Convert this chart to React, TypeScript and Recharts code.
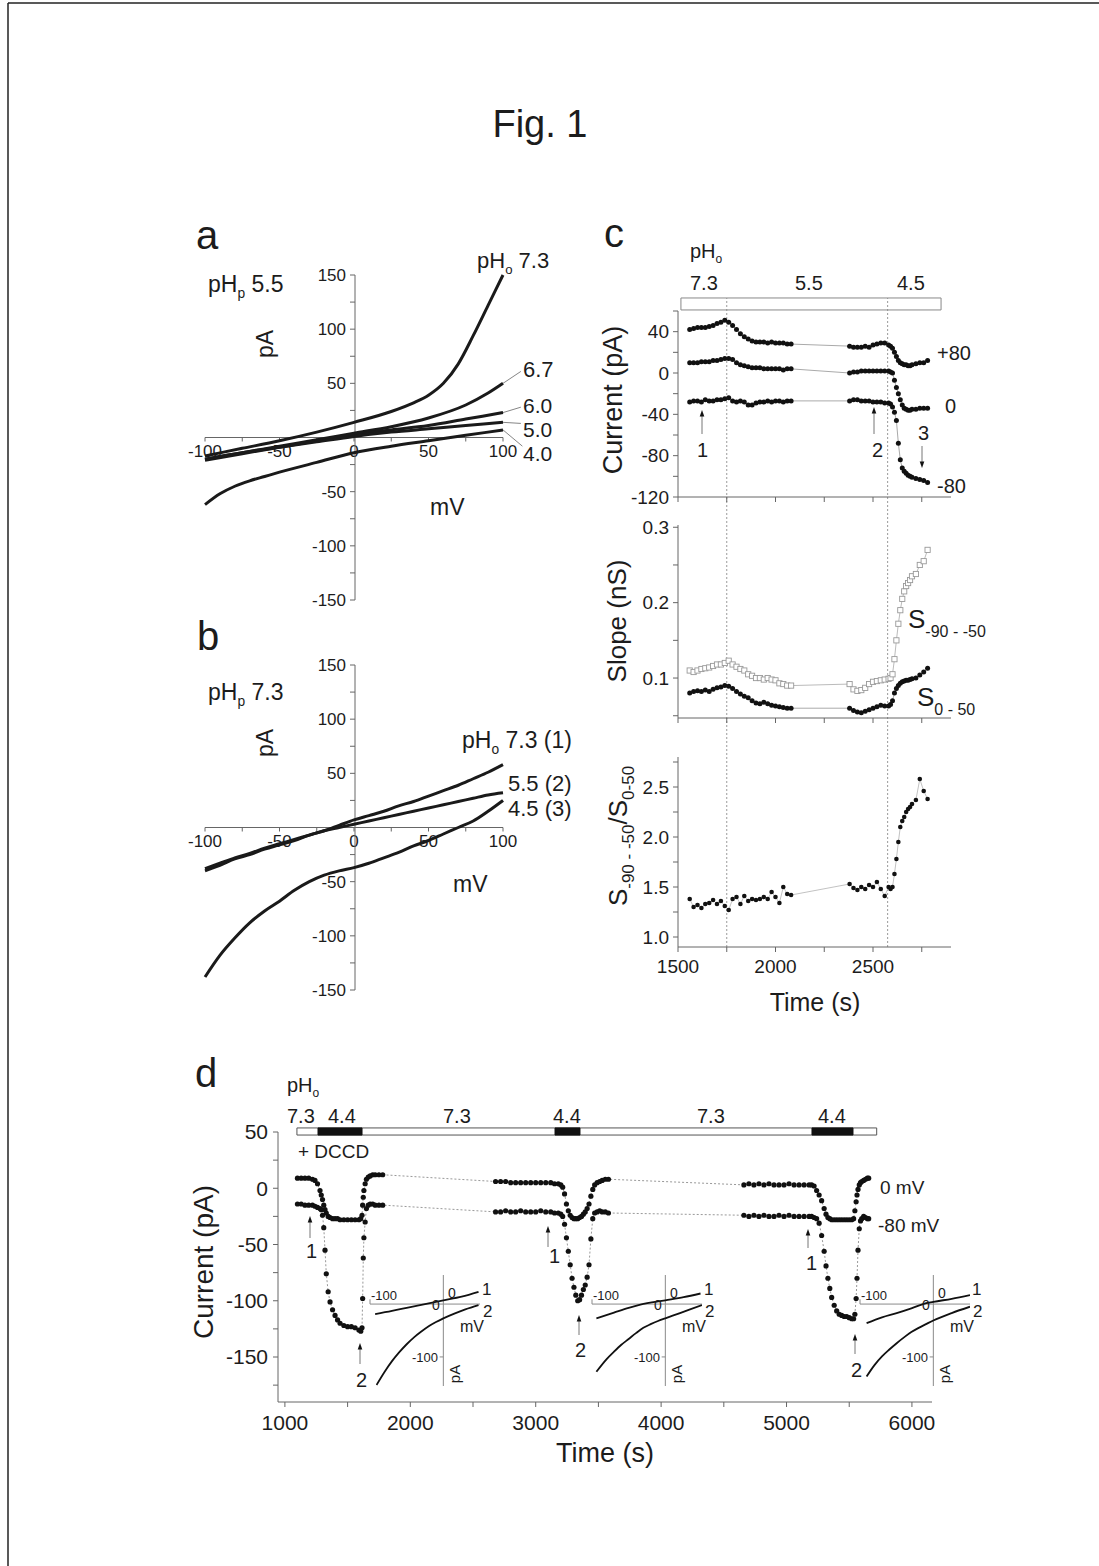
import React from 'react';
import { LineChart, Line, XAxis, YAxis, ReferenceLine, ReferenceArea } from 'recharts';

const FONT = '"Liberation Sans", Arial, Helvetica, sans-serif';
const INK = '#1c1c1c';
const AX = '#666';

// ---------------- Panel a (pHp 5.5) ----------------
const A_V_73 = [-100, -75, -50, -25, 0, 25, 40, 50, 60, 70, 80, 90, 100];
const A_I_73 = [-17, -10, -3, 5, 14, 24, 32, 39, 50, 68, 94, 122, 150];
const A_V_67 = [-100, -75, -50, -25, 0, 25, 50, 75, 90, 100];
const A_I_67 = [-20, -14, -8, -2, 4, 10, 18, 30, 41, 50];
const A_V_60 = [-100, -75, -50, -25, 0, 25, 50, 75, 100];
const A_I_60 = [-21, -15, -9, -3, 3, 7, 11, 17, 23];
const A_V_50 = [-100, -75, -50, -25, 0, 25, 50, 75, 100];
const A_I_50 = [-20, -14, -9, -4, 1, 5, 8, 11, 14];
const A_V_40 = [-100, -90, -80, -70, -60, -50, -25, 0, 25, 50, 75, 100];
const A_I_40 = [-62, -52, -45, -40, -36, -32, -23, -14, -8, -3, 2, 7];

// ---------------- Panel b (pHp 7.3) ----------------
const B_V = [-100, -90, -80, -70, -60, -50, -40, -30, -20, -10, 0, 10, 20, 30, 40, 50, 60, 70, 80, 90, 100];
const B_I_73 = [-40, -35, -29, -25, -20, -16, -12, -7, -3, 2, 7, 11, 15, 20, 24, 29, 34, 39, 45, 51, 58];
const B_I_55 = [-38, -33, -28, -24, -19, -15, -11, -7, -3, 0, 3, 6, 9, 12, 15, 18, 21, 24, 27, 30, 32];
const B_I_45 = [-138, -118, -102, -88, -77, -68, -58, -50, -44, -40, -37, -33, -28, -23, -17, -12, -6, 0, 6, 15, 25];

const IV_XTICKS = [-100, -75, -50, -25, 0, 25, 50, 75, 100];
const IV_YTICKS = [-150, -125, -100, -75, -50, -25, 0, 25, 50, 75, 100, 125, 150];

// ---------------- Panel c ----------------
const C_T = [1560, 1580, 1600, 1620, 1640, 1660, 1680, 1700, 1720, 1740, 1760, 1780, 1800, 1820, 1840, 1860, 1880, 1900, 1920, 1940, 1960, 1980, 2000, 2020, 2040, 2060, 2080,
  2380, 2400, 2420, 2440, 2460, 2480, 2500, 2520, 2540, 2560, 2580, 2590, 2600, 2610, 2620, 2630, 2640, 2650, 2660, 2670, 2680, 2690, 2700, 2720, 2740, 2760, 2780];
const C_P80 = [42, 43, 44, 44, 44, 45, 46, 48, 49, 51, 49, 46, 42, 38, 35, 33, 31, 30, 30, 30, 29, 30, 29, 29, 29, 28, 28,
  26, 25, 25, 25, 26, 25, 27, 28, 29, 29, 27, 26, 24, 20, 16, 12, 10, 9, 8, 8, 7, 7, 8, 9, 10, 10, 12];
const C_0 = [10, 10, 10, 11, 11, 11, 12, 12, 13, 14, 14, 13, 10, 8, 7, 6, 5, 5, 5, 4, 4, 4, 4, 4, 3, 4, 4,
  0, 1, 1, 2, 2, 2, 2, 2, 2, 2, 2, 1, 0, -7, -14, -20, -26, -31, -34, -35, -36, -36, -35, -35, -34, -34, -34];
const C_M80 = [-28, -27, -27, -28, -26, -27, -27, -26, -26, -25, -24, -27, -28, -27, -28, -31, -31, -29, -28, -28, -27, -28, -27, -27, -28, -27, -27,
  -27, -26, -26, -27, -27, -27, -28, -28, -28, -29, -29, -30, -33, -38, -46, -68, -84, -92, -95, -97, -99, -100, -101, -102, -103, -104, -106];
const C_S90 = [0.110, 0.108, 0.110, 0.112, 0.113, 0.114, 0.116, 0.118, 0.118, 0.120, 0.123, 0.118, 0.115, 0.112, 0.110, 0.105, 0.103, 0.100, 0.100, 0.098, 0.100, 0.098, 0.097, 0.093, 0.092, 0.090, 0.090,
  0.092, 0.085, 0.083, 0.084, 0.087, 0.092, 0.095, 0.096, 0.097, 0.098, 0.099, 0.100, 0.105, 0.125, 0.150, 0.172, 0.190, 0.205, 0.215, 0.222, 0.226, 0.230, 0.235, 0.238, 0.250, 0.255, 0.270];
const C_S0 = [0.080, 0.082, 0.083, 0.082, 0.084, 0.082, 0.085, 0.087, 0.088, 0.090, 0.089, 0.086, 0.082, 0.079, 0.076, 0.074, 0.070, 0.067, 0.066, 0.068, 0.066, 0.064, 0.063, 0.062, 0.061, 0.060, 0.060,
  0.060, 0.057, 0.055, 0.054, 0.056, 0.058, 0.060, 0.062, 0.064, 0.063, 0.063, 0.065, 0.070, 0.080, 0.086, 0.090, 0.093, 0.095, 0.096, 0.097, 0.097, 0.098, 0.099, 0.100, 0.104, 0.108, 0.113];
const C_RATIO = [1.38, 1.30, 1.32, 1.29, 1.33, 1.34, 1.37, 1.33, 1.36, 1.31, 1.27, 1.38, 1.40, 1.33, 1.41, 1.36, 1.38, 1.37, 1.38, 1.40, 1.38, 1.45, 1.40, 1.34, 1.50, 1.43, 1.42,
  1.53, 1.49, 1.47, 1.50, 1.48, 1.52, 1.50, 1.55, 1.48, 1.41, 1.50, 1.48, 1.50, 1.63, 1.78, 1.95, 2.10, 2.16, 2.20, 2.25, 2.28, 2.30, 2.33, 2.37, 2.58, 2.46, 2.38];
const C_XTICKS = [1500, 1750, 2000, 2250, 2500, 2750];
const C1_YTICKS = [-120, -100, -80, -60, -40, -20, 0, 20, 40, 60];
const C2_YTICKS = [0.05, 0.1, 0.15, 0.2, 0.25, 0.3];
const C3_YTICKS = [1.0, 1.25, 1.5, 1.75, 2.0, 2.25, 2.5, 2.75];
const C_SOLUTION_CHANGES = [1750, 2575];
const C_PH_BAR = [1515, 2849];

// ---------------- Panel d ----------------
const D_T = [1100, 1130, 1160, 1190, 1220, 1240, 1260, 1280, 1290, 1300, 1310, 1320, 1330, 1345, 1360, 1380, 1400, 1420, 1440, 1470, 1500, 1530, 1560, 1590, 1605, 1615, 1620, 1625, 1630, 1640, 1650, 1665, 1680, 1700, 1720, 1750, 1780,
  2680, 2720, 2760, 2800, 2840, 2880, 2920, 2960, 3000, 3040, 3080, 3120, 3150, 3180, 3200, 3215, 3230, 3245, 3260, 3275, 3290, 3305, 3320, 3335, 3350, 3365, 3380, 3395, 3410, 3425, 3440, 3455, 3470, 3490, 3510, 3530, 3555, 3580,
  4660, 4700, 4740, 4780, 4820, 4860, 4900, 4940, 4980, 5020, 5060, 5100, 5140, 5180, 5200, 5220, 5240, 5260, 5280, 5300, 5315, 5330, 5345, 5360, 5380, 5400, 5420, 5440, 5460, 5480, 5500, 5520, 5535, 5545, 5555, 5562, 5570, 5580, 5590, 5600, 5615, 5630, 5645, 5655];
const D_0MV = [9, 9, 9, 9, 8, 7, 4, -2, -6, -10, -15, -19, -22, -25, -26, -27, -27, -27, -28, -28, -28, -28, -28, -28, -27, -24, -15, -8, -2, 4, 8, 10, 11, 12, 12, 12, 12,
  6, 6, 6, 5, 5, 5, 5, 5, 5, 5, 5, 5, 4, 4, 3, 1, -5, -14, -20, -24, -26, -27, -27, -27, -26, -25, -23, -21, -18, -14, -7, -1, 3, 5, 6, 7, 8, 8,
  3, 4, 3, 4, 3, 4, 3, 3, 3, 4, 3, 3, 3, 3, 3, 2, -2, -6, -11, -18, -23, -26, -27, -28, -28, -28, -28, -28, -28, -28, -28, -28, -27, -20, -12, -6, -1, 3, 5, 6, 7, 8, 9, 9];
const D_M80MV = [-14, -14, -15, -15, -15, -16, -17, -18, -19, -24, -35, -55, -76, -92, -101, -108, -113, -117, -120, -122, -123, -123, -124, -126, -127, -124, -98, -62, -44, -30, -18, -15, -14, -14, -15, -15, -15,
  -21, -21, -20, -21, -21, -20, -21, -21, -21, -20, -21, -21, -22, -22, -23, -25, -32, -44, -56, -68, -80, -88, -95, -100, -99, -95, -90, -86, -79, -68, -45, -27, -22, -21, -20, -21, -21, -22,
  -24, -25, -24, -25, -24, -25, -25, -24, -25, -24, -25, -25, -25, -25, -25, -26, -27, -31, -42, -56, -69, -80, -89, -97, -104, -109, -112, -113, -114, -114, -115, -116, -116, -112, -98, -80, -55, -36, -29, -27, -25, -26, -27, -27];
const D_XTICKS = [1000, 1500, 2000, 2500, 3000, 3500, 4000, 4500, 5000, 5500, 6000];
const D_YTICKS = [-175, -150, -125, -100, -75, -50, -25, 0, 25, 50];
const D_PH_BAR = [1096, 5719];
const D_PH_LOW = [[1264, 1615], [3154, 3353], [5203, 5530]];

// insets of d (I-V at points 1 and 2)
const IN1_V1 = [-93, -70, -50, -25, 0, 25, 48];
const IN1_I1 = [-19, -13, -7, 0, 7, 14, 23];
const IN1_V2 = [-91, -80, -70, -60, -50, -40, -30, -20, -10, 0, 15, 30, 48];
const IN1_I2 = [-153, -128, -108, -91, -76, -63, -52, -42, -34, -27, -18, -10, -2];
const IN2_V1 = [-94, -70, -50, -34, 0, 25, 48];
const IN2_I1 = [-27, -16, -7, -1, 7, 13, 20];
const IN2_V2 = [-94, -80, -70, -60, -50, -40, -30, -20, -10, 0, 20, 50];
const IN2_I2 = [-128, -104, -90, -77, -66, -55, -45, -38, -32, -27, -17, -2];
const IN3_V1 = [-91, -70, -50, -30, -14, 0, 25, 50];
const IN3_I1 = [-36, -25, -17, -8, 0, 4, 10, 17];
const IN3_V2 = [-91, -80, -70, -60, -50, -40, -30, -20, -10, 0, 25, 50];
const IN3_I2 = [-137, -115, -99, -86, -74, -63, -53, -45, -38, -31, -17, -5];

type P = { x: number; y: number };
const pts = (xs: number[], ys: number[]): P[] => xs.map((x, i) => ({ x, y: ys[i] }));

type Rect = { x0: number; x1: number; y0: number; y1: number };
const PAD = 70;
function Frame({ r, yW = 0, xH = 0, children }: { r: Rect; yW?: number; xH?: number; children?: React.ReactNode }) {
  const w = r.x1 - r.x0 + 2 * PAD;
  const h = r.y1 - r.y0 + 2 * PAD;
  return (
    <div style={{ position: 'absolute', left: r.x0 - PAD, top: r.y0 - PAD, width: w, height: h }}>
      <LineChart width={w} height={h} margin={{ top: PAD, right: PAD, bottom: PAD - xH, left: PAD - yW }}>
        {children}
      </LineChart>
    </div>
  );
}

const fmtIVx = (v: number) => (v % 50 === 0 ? String(v) : '');
const fmtIVy = (v: number) => (v % 50 === 0 && v !== 0 ? String(v) : '');
const fmtC1 = (v: number) => (v % 40 === 0 ? String(v) : '');
const fmtC2 = (v: number) => (Math.abs(v * 10 - Math.round(v * 10)) < 1e-6 ? v.toFixed(1) : '');
const fmtC3 = (v: number) => (Math.abs(v * 2 - Math.round(v * 2)) < 1e-6 ? v.toFixed(1) : '');
const fmtCx = (v: number) => (v % 500 === 0 ? String(v) : '');
const fmtDx = (v: number) => (v % 1000 === 0 ? String(v) : '');
const fmtDy = (v: number) => (v % 50 === 0 ? String(v) : '');
const blank = () => '';

const squareDot = (p: any) => (
  <rect key={`sq${p.index}`} x={p.cx - 2.6} y={p.cy - 2.6} width={5.2} height={5.2} fill="#fff" stroke="#999" strokeWidth={0.9} />
);

function IVPanel({ r, series, leaders }: { r: Rect; series: P[][]; leaders?: P[][] }) {
  const zeroY = r.y0 + (r.y1 - r.y0) / 2;
  const zeroX = r.x0 + (r.x1 - r.x0) / 2 + 0.5;
  return (
    <>
      <Frame r={{ x0: r.x0, x1: r.x1, y0: r.y0, y1: zeroY }} xH={30}>
        <XAxis type="number" dataKey="x" domain={[-100, 100]} ticks={IV_XTICKS} tickFormatter={fmtIVx} interval={0}
          height={30} stroke={AX} tickSize={4} tickMargin={3} tick={{ fill: INK, fontSize: 17 }} allowDataOverflow />
        <YAxis type="number" domain={[0, 150]} hide allowDataOverflow />
      </Frame>
      <Frame r={{ x0: zeroX, x1: r.x1, y0: r.y0, y1: r.y1 }} yW={50}>
        <XAxis type="number" dataKey="x" domain={[0, 100]} hide allowDataOverflow />
        <YAxis type="number" domain={[-150, 150]} ticks={IV_YTICKS} tickFormatter={fmtIVy} interval={0}
          width={50} stroke={AX} tickSize={5} tickMargin={4} tick={{ fill: INK, fontSize: 17 }} allowDataOverflow />
      </Frame>
      <Frame r={r}>
        <XAxis type="number" dataKey="x" domain={[-100, 100]} hide />
        <YAxis type="number" domain={[-150, 150]} hide />
        {(leaders || []).map((seg, i) => (
          <ReferenceLine key={`ld${i}`} segment={seg} stroke="#777" strokeWidth={0.9} ifOverflow="visible" />
        ))}
        {series.map((s, i) => (
          <Line key={`iv${i}`} data={s} dataKey="y" type="monotone" stroke="#1a1a1a" strokeWidth={3} dot={false} activeDot={false} isAnimationActive={false} />
        ))}
      </Frame>
    </>
  );
}

function Inset({ ox, c1, c2 }: { ox: number; c1: P[]; c2: P[] }) {
  const r = { x0: ox - 73, x1: ox + 37, y0: 1275, y1: 1386 };
  return (
    <Frame r={r}>
      <XAxis type="number" dataKey="x" domain={[-100, 50]} hide allowDataOverflow />
      <YAxis type="number" domain={[-155, 55]} hide allowDataOverflow />
      <ReferenceLine y={0} stroke="#8a8a8a" strokeWidth={1} />
      <ReferenceLine x={0} stroke="#8a8a8a" strokeWidth={1} />
      <ReferenceLine segment={[{ x: -100, y: 0 }, { x: -100, y: 9 }]} stroke="#8a8a8a" />
      <ReferenceLine segment={[{ x: 0, y: -100 }, { x: -5, y: -100 }]} stroke="#8a8a8a" />
      <Line data={c1} dataKey="y" type="monotone" stroke="#111" strokeWidth={1.8} dot={false} activeDot={false} isAnimationActive={false} />
      <Line data={c2} dataKey="y" type="monotone" stroke="#111" strokeWidth={1.8} dot={false} activeDot={false} isAnimationActive={false} />
    </Frame>
  );
}

function Arrow({ x, y1, y2 }: { x: number; y1: number; y2: number }) {
  const d = y2 < y1 ? 1 : -1;
  return (
    <g>
      <line x1={x} y1={y1} x2={x} y2={y2 + d * 4} stroke="#777" strokeWidth={1} />
      <polygon points={`${x},${y2} ${x - 2.3},${y2 + d * 6.5} ${x + 2.3},${y2 + d * 6.5}`} fill="#111" />
    </g>
  );
}

function PH({ x, y, fs, sub, rest }: { x: number; y: number; fs: number; sub: string; rest: string }) {
  return (
    <text x={x} y={y} fontSize={fs}>
      pH<tspan dy={fs * 0.25} fontSize={fs * 0.6}>{sub}</tspan>
      <tspan dy={-fs * 0.25}>{rest}</tspan>
    </text>
  );
}

function Annotations() {
  const insetOx = [443, 665, 933];
  return (
    <svg width={1099} height={1566} style={{ position: 'absolute', left: 0, top: 0, pointerEvents: 'none' }} fill={INK} fontFamily={FONT}>
      <line x1={8} y1={3} x2={1099} y2={3} stroke="#222" strokeWidth={1.5} />
      <line x1={8} y1={3} x2={8} y2={1566} stroke="#222" strokeWidth={1.5} />
      <text x={540} y={137} fontSize={38} textAnchor="middle">Fig. 1</text>

      {/* panel a */}
      <text x={196} y={249} fontSize={40}>a</text>
      <PH x={208} y={292} fs={23} sub="p" rest=" 5.5" />
      <text x={273} y={344} fontSize={23} textAnchor="middle" transform="rotate(-90 273 344)">pA</text>
      <text x={430} y={515} fontSize={23}>mV</text>
      <PH x={477} y={268} fs={22} sub="o" rest=" 7.3" />
      <text x={523} y={377} fontSize={22}>6.7</text>
      <text x={523} y={413} fontSize={21}>6.0</text>
      <text x={523} y={437} fontSize={21}>5.0</text>
      <text x={523} y={461} fontSize={21}>4.0</text>

      {/* panel b */}
      <text x={197} y={650} fontSize={40}>b</text>
      <PH x={208} y={700} fs={23} sub="p" rest=" 7.3" />
      <text x={273} y={743} fontSize={23} textAnchor="middle" transform="rotate(-90 273 743)">pA</text>
      <text x={453} y={892} fontSize={23}>mV</text>
      <PH x={462} y={748} fs={23} sub="o" rest=" 7.3 (1)" />
      <text x={508} y={791} fontSize={22}>5.5 (2)</text>
      <text x={508} y={816} fontSize={22}>4.5 (3)</text>

      {/* panel c */}
      <text x={604} y={247} fontSize={40}>c</text>
      <PH x={690} y={258} fs={20} sub="o" rest="" />
      <text x={690} y={290} fontSize={20}>7.3</text>
      <text x={795} y={290} fontSize={20}>5.5</text>
      <text x={897} y={290} fontSize={20}>4.5</text>
      <text x={622} y={400} fontSize={27} textAnchor="middle" transform="rotate(-90 622 400)">Current (pA)</text>
      <text x={937} y={360} fontSize={20}>+80</text>
      <text x={945} y={413} fontSize={20}>0</text>
      <text x={937} y={493} fontSize={20}>-80</text>
      <text x={697} y={457} fontSize={20}>1</text>
      <text x={872} y={457} fontSize={20}>2</text>
      <text x={918} y={440} fontSize={20}>3</text>
      <Arrow x={702} y1={434} y2={410} />
      <Arrow x={874} y1={434} y2={407} />
      <Arrow x={922} y1={446} y2={468} />
      <text x={626} y={621} fontSize={26} textAnchor="middle" transform="rotate(-90 626 621)">Slope (nS)</text>
      <text x={908} y={628} fontSize={26}>S<tspan dy={9} fontSize={16}>-90 - -50</tspan></text>
      <text x={917} y={706} fontSize={26}>S<tspan dy={9} fontSize={16}>0 - 50</tspan></text>
      <text x={627} y={836} fontSize={26} textAnchor="middle" transform="rotate(-90 627 836)">
        S<tspan dy={7} fontSize={17}>-90 - -50</tspan><tspan dy={-7}>/S</tspan><tspan dy={7} fontSize={17}>0-50</tspan>
      </text>
      <text x={815} y={1011} fontSize={25} textAnchor="middle">Time (s)</text>

      {/* panel d */}
      <text x={195} y={1087} fontSize={40}>d</text>
      <PH x={287} y={1092} fs={20} sub="o" rest="" />
      <text x={287} y={1123} fontSize={20}>7.3</text>
      <text x={328} y={1123} fontSize={20}>4.4</text>
      <text x={443} y={1123} fontSize={20}>7.3</text>
      <text x={553} y={1123} fontSize={20}>4.4</text>
      <text x={697} y={1123} fontSize={20}>7.3</text>
      <text x={818} y={1123} fontSize={20}>4.4</text>
      <text x={298} y={1158} fontSize={19}>+ DCCD</text>
      <text x={880} y={1194} fontSize={19}>0 mV</text>
      <text x={878} y={1232} fontSize={19}>-80 mV</text>
      <text x={213} y={1262} fontSize={28} textAnchor="middle" transform="rotate(-90 213 1262)">Current (pA)</text>
      <text x={605} y={1462} fontSize={27} textAnchor="middle">Time (s)</text>
      <text x={306} y={1258} fontSize={20}>1</text>
      <text x={356} y={1387} fontSize={20}>2</text>
      <text x={549} y={1263} fontSize={20}>1</text>
      <text x={575} y={1357} fontSize={20}>2</text>
      <text x={806} y={1270} fontSize={20}>1</text>
      <text x={851} y={1377} fontSize={20}>2</text>
      <Arrow x={310} y1={1238} y2={1216} />
      <Arrow x={360} y1={1364} y2={1343} />
      <Arrow x={548} y1={1247} y2={1226} />
      <Arrow x={579} y1={1335} y2={1315} />
      <Arrow x={808} y1={1248} y2={1229} />
      <Arrow x={855} y1={1354} y2={1334} />
      {insetOx.map((ox, i) => (
        <g key={`il${i}`}>
          <text x={ox - 72} y={1300} fontSize={13}>-100</text>
          <text x={ox + 5} y={1298} fontSize={14}>0</text>
          <text x={ox - 11} y={1310} fontSize={14}>0</text>
          <text x={ox - 5} y={1362} fontSize={13} textAnchor="end">-100</text>
          <text x={ox + 17} y={1332} fontSize={16}>mV</text>
          <text x={ox + 17} y={1374} fontSize={15} textAnchor="middle" transform={`rotate(-90 ${ox + 17} 1374)`}>pA</text>
          <text x={ox + 39} y={1295} fontSize={17}>1</text>
          <text x={ox + 40} y={1317} fontSize={17}>2</text>
        </g>
      ))}
    </svg>
  );
}

const C1: Rect = { x0: 678, x1: 951, y0: 311, y1: 497 };
const C2: Rect = { x0: 678, x1: 951, y0: 525, y1: 718 };
const C3: Rect = { x0: 678, x1: 951, y0: 757, y1: 947 };
const CV: Rect = { x0: 678, x1: 951, y0: 298, y1: 947 };
const DR: Rect = { x0: 278, x1: 932, y0: 1132, y1: 1402 };

const dotK = { r: 2.5, fill: '#111', stroke: 'none' };
const dotR = { r: 2.3, fill: '#111', stroke: 'none' };
const dotD = { r: 2.6, fill: '#111', stroke: 'none' };

export default function App() {
  const cX = (labels: boolean, h: number) => (
    <XAxis type="number" dataKey="x" domain={[1500, 2900]} ticks={C_XTICKS} tickFormatter={labels ? fmtCx : blank} interval={0}
      height={h} stroke={AX} tickSize={5} tickMargin={8} tick={{ fill: INK, fontSize: 19 }} />
  );
  return (
    <div style={{ position: 'absolute', left: 0, top: 0, width: 1099, height: 1566, background: '#fff', fontFamily: FONT, color: INK, overflow: 'hidden' }}>
      {/* a */}
      <IVPanel
        r={{ x0: 205, x1: 503, y0: 275, y1: 600 }}
        series={[pts(A_V_73, A_I_73), pts(A_V_67, A_I_67), pts(A_V_60, A_I_60), pts(A_V_50, A_I_50), pts(A_V_40, A_I_40)]}
        leaders={[
          [{ x: 100, y: 50 }, { x: 112, y: 61 }],
          [{ x: 100, y: 23 }, { x: 112, y: 28 }],
          [{ x: 100, y: 14 }, { x: 112, y: 13 }],
          [{ x: 100, y: 7 }, { x: 113, y: -8 }],
        ]}
      />
      {/* b */}
      <IVPanel r={{ x0: 205, x1: 503, y0: 665, y1: 990 }} series={[pts(B_V, B_I_73), pts(B_V, B_I_55), pts(B_V, B_I_45)]} />

      {/* c: solution-change markers */}
      <Frame r={CV}>
        <XAxis type="number" dataKey="x" domain={[1500, 2900]} hide allowDataOverflow />
        <YAxis type="number" domain={[0, 1]} hide allowDataOverflow />
        {C_SOLUTION_CHANGES.map((t) => (
          <ReferenceLine key={`sc${t}`} x={t} stroke="#9a9a9a" strokeWidth={1} strokeDasharray="2 2" />
        ))}
      </Frame>
      {/* c top: currents */}
      <Frame r={C1} yW={55} xH={12}>
        {cX(false, 12)}
        <YAxis type="number" domain={[-120, 60]} ticks={C1_YTICKS} tickFormatter={fmtC1} interval={0} width={55}
          stroke={AX} tickSize={5} tickMargin={4} tick={{ fill: INK, fontSize: 19 }} />
        <ReferenceArea x1={C_PH_BAR[0]} x2={C_PH_BAR[1]} y1={61} y2={72.6} ifOverflow="visible" fill="none" stroke="#888" strokeWidth={1} />
        <Line data={pts(C_T, C_P80)} dataKey="y" stroke="#aaa" strokeWidth={1} dot={dotK} activeDot={false} isAnimationActive={false} />
        <Line data={pts(C_T, C_0)} dataKey="y" stroke="#aaa" strokeWidth={1} dot={dotK} activeDot={false} isAnimationActive={false} />
        <Line data={pts(C_T, C_M80)} dataKey="y" stroke="#aaa" strokeWidth={1} dot={dotK} activeDot={false} isAnimationActive={false} />
      </Frame>
      {/* c middle: slopes */}
      <Frame r={C2} yW={55} xH={12}>
        {cX(false, 12)}
        <YAxis type="number" domain={[0.047, 0.303]} ticks={C2_YTICKS} tickFormatter={fmtC2} interval={0} width={55}
          stroke={AX} tickSize={5} tickMargin={4} tick={{ fill: INK, fontSize: 19 }} />
        <Line data={pts(C_T, C_S90)} dataKey="y" stroke="#bbb" strokeWidth={1} dot={squareDot} activeDot={false} isAnimationActive={false} />
        <Line data={pts(C_T, C_S0)} dataKey="y" stroke="#aaa" strokeWidth={1} dot={dotK} activeDot={false} isAnimationActive={false} />
      </Frame>
      {/* c bottom: ratio */}
      <Frame r={C3} yW={55} xH={35}>
        {cX(true, 35)}
        <YAxis type="number" domain={[0.9, 2.8]} ticks={C3_YTICKS} tickFormatter={fmtC3} interval={0} width={55}
          stroke={AX} tickSize={5} tickMargin={4} tick={{ fill: INK, fontSize: 19 }} />
        <Line data={pts(C_T, C_RATIO)} dataKey="y" stroke="#bbb" strokeWidth={0.9} dot={dotR} activeDot={false} isAnimationActive={false} />
      </Frame>

      {/* d */}
      <Frame r={DR} yW={60} xH={38}>
        <XAxis type="number" dataKey="x" domain={[945, 6160]} ticks={D_XTICKS} tickFormatter={fmtDx} interval={0}
          height={38} stroke={AX} tickSize={5} tickMargin={8} tick={{ fill: INK, fontSize: 21 }} />
        <YAxis type="number" domain={[-190, 50]} ticks={D_YTICKS} tickFormatter={fmtDy} interval={0} width={60}
          stroke={AX} tickSize={5} tickMargin={5} tick={{ fill: INK, fontSize: 21 }} />
        <ReferenceArea x1={D_PH_BAR[0]} x2={D_PH_BAR[1]} y1={47.3} y2={53.6} ifOverflow="visible" fill="#fff" fillOpacity={1} stroke="#555" strokeWidth={1} />
        {D_PH_LOW.map(([a, b]) => (
          <ReferenceArea key={`pl${a}`} x1={a} x2={b} y1={47.3} y2={53.6} ifOverflow="visible" fill="#111" fillOpacity={1} stroke="#111" />
        ))}
        <Line data={pts(D_T, D_0MV)} dataKey="y" stroke="#999" strokeWidth={1} strokeDasharray="2 2" dot={dotD} activeDot={false} isAnimationActive={false} />
        <Line data={pts(D_T, D_M80MV)} dataKey="y" stroke="#999" strokeWidth={1} strokeDasharray="2 2" dot={dotD} activeDot={false} isAnimationActive={false} />
      </Frame>
      <Inset ox={443} c1={pts(IN1_V1, IN1_I1)} c2={pts(IN1_V2, IN1_I2)} />
      <Inset ox={665} c1={pts(IN2_V1, IN2_I1)} c2={pts(IN2_V2, IN2_I2)} />
      <Inset ox={933} c1={pts(IN3_V1, IN3_I1)} c2={pts(IN3_V2, IN3_I2)} />

      <Annotations />
    </div>
  );
}
